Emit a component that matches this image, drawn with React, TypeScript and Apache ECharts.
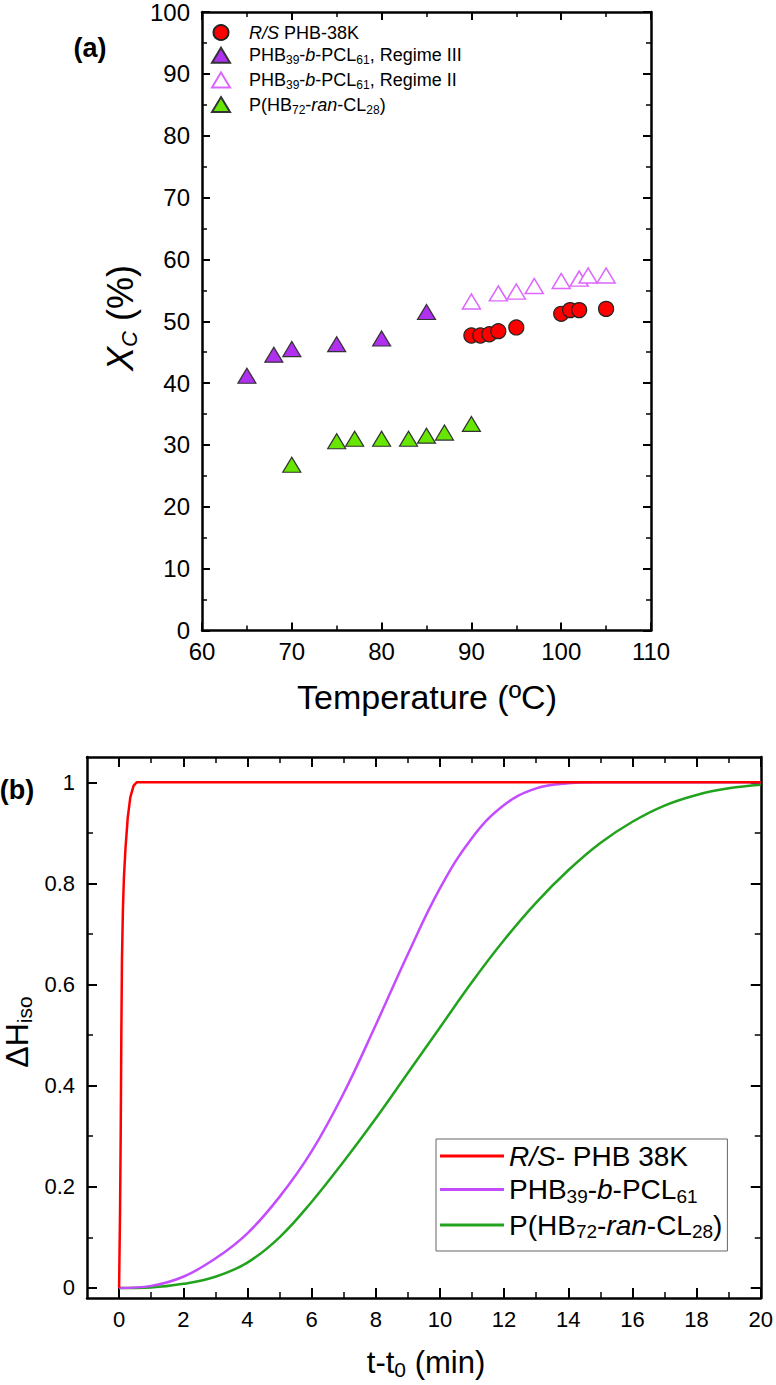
import React, { useEffect, useRef } from "react";
import * as echarts from "echarts";

// ---------- Panel (a): crystallinity vs temperature ----------
const rsTemp = [90, 91, 92, 93, 95, 100, 101, 102, 105];
const rsXc = [47.7, 47.7, 47.9, 48.4, 49.0, 51.2, 51.8, 51.8, 52.0];
const blockIIITemp = [65, 68, 70, 75, 80, 85];
const blockIIIXc = [41.2, 44.6, 45.5, 46.3, 47.2, 51.5];
const blockIITemp = [90, 93, 95, 97, 100, 102, 103, 105];
const blockIIXc = [53.2, 54.5, 54.8, 55.7, 56.5, 56.9, 57.4, 57.4];
const ranTemp = [70, 75, 77, 80, 83, 85, 87, 90];
const ranXc = [26.8, 30.6, 31.0, 31.0, 31.0, 31.5, 32.0, 33.4];

// ---------- Panel (b): relative enthalpy vs time ----------
const rsTime = [0, 0.03, 0.05, 0.07, 0.09, 0.12, 0.15, 0.2, 0.27, 0.35, 0.45, 0.55, 20];
const rsDH = [0, 0.15, 0.3, 0.5, 0.65, 0.75, 0.81, 0.87, 0.93, 0.97, 0.993, 1, 1];
const blockTime = [0, 1, 2, 3, 4, 5, 6, 7, 8, 9, 10, 11, 12, 13, 14, 15, 16, 17, 18, 19, 20];
const blockDH = [0, 0.004, 0.022, 0.058, 0.108, 0.18, 0.27, 0.385, 0.52, 0.66, 0.79, 0.89, 0.955, 0.988, 0.998, 1, 1, 1, 1, 1, 1];
const ranTime = [0, 1, 2, 3, 4, 5, 6, 7, 8, 9, 10, 11, 12, 13, 14, 15, 16, 17, 18, 19, 20];
const ranDH = [0, 0.001, 0.008, 0.022, 0.05, 0.1, 0.17, 0.25, 0.335, 0.425, 0.515, 0.605, 0.688, 0.762, 0.826, 0.88, 0.922, 0.954, 0.975, 0.988, 0.995];

const xMajorB = [0, 2, 4, 6, 8, 10, 12, 14, 16, 18, 20];
const xMinorB = [1, 3, 5, 7, 9, 11, 13, 15, 17, 19];
const yMajorB = [0, 0.2, 0.4, 0.6, 0.8, 1];
const yMinorB = [0.1, 0.3, 0.5, 0.7, 0.9];

const FF = "'Liberation Sans', Arial, sans-serif";

const zip = (xs: number[], ys: number[]) => xs.map((x, i) => [x, ys[i]]);

const legendTextA: Record<string, string> = {
  "a-rs": "{g| }{i|R/S}{n| PHB-38K}",
  "a-b3": "{g| }{n|PHB}{s|39}{n|-}{i|b}{n|-PCL}{s|61}{n|, Regime III}",
  "a-b2": "{g| }{n|PHB}{s|39}{n|-}{i|b}{n|-PCL}{s|61}{n|, Regime II}",
  "a-ran": "{g| }{n|P(HB}{s|72}{n|-}{i|ran}{n|-CL}{s|28}{n|)}",
};
const legendTextB: Record<string, string> = {
  "b-rs": "{i|R/S}{n|- PHB 38K}",
  "b-b": "{n|PHB}{s|39}{n|-}{i|b}{n|-PCL}{s|61}",
  "b-ran": "{n|P(HB}{s|72}{n|-}{i|ran}{n|-CL}{s|28}{n|)}",
};

const lineAx = { show: true, onZero: false, lineStyle: { color: "#000", width: 2.5 } };
const tickStyle = { color: "#000", width: 2 };
const minorStyle = { color: "#000", width: 1.5 };

function buildOption() {
  const axA = (position: string, labels: boolean, isX: boolean) => ({
    type: "value",
    gridIndex: 0,
    position,
    min: isX ? 60 : 0,
    max: isX ? 110 : 100,
    interval: 10,
    axisLine: lineAx,
    axisTick: { show: true, inside: true, length: 8, lineStyle: tickStyle },
    minorTick: { show: true, splitNumber: 2, length: 5, lineStyle: minorStyle },
    axisLabel: { show: labels, fontSize: 24, margin: isX ? 9 : 12, color: "#000", fontFamily: FF },
    splitLine: { show: false },
    minorSplitLine: { show: false },
  });
  const axB = (position: string, isX: boolean, major: boolean, labels: boolean) => ({
    type: "value",
    gridIndex: 1,
    position,
    min: isX ? -1 : -0.02,
    max: isX ? 20 : 1.05,
    axisLine: major ? lineAx : { show: false, onZero: false },
    axisTick: {
      show: true,
      inside: true,
      length: major ? 10 : 6,
      lineStyle: major ? tickStyle : minorStyle,
      customValues: isX ? (major ? xMajorB : xMinorB) : major ? yMajorB : yMinorB,
    },
    axisLabel: {
      show: labels,
      customValues: isX ? xMajorB : yMajorB,
      fontSize: 22,
      margin: isX ? 10 : 12,
      color: "#000",
      fontFamily: FF,
      formatter: (v: number) => String(Math.round(v * 10) / 10),
    },
    splitLine: { show: false },
  });

  const richA = {
    g: { width: 14, fontSize: 18, lineHeight: 22 },
    n: { fontSize: 18, lineHeight: 22, fontFamily: FF, color: "#000" },
    i: { fontSize: 18, lineHeight: 22, fontFamily: FF, fontStyle: "italic", color: "#000" },
    s: { fontSize: 12, lineHeight: 8, fontFamily: FF, verticalAlign: "bottom", color: "#000" },
  };
  const richB = {
    n: { fontSize: 28, lineHeight: 32, fontFamily: FF, color: "#000" },
    i: { fontSize: 28, lineHeight: 32, fontFamily: FF, fontStyle: "italic", color: "#000" },
    s: { fontSize: 19, lineHeight: 12, fontFamily: FF, verticalAlign: "bottom", color: "#000" },
  };

  return {
    animation: false,
    backgroundColor: "#fff",
    grid: [
      { left: 202, top: 10.5, width: 449, height: 620, containLabel: false },
      { left: 87, top: 757, width: 678, height: 541, containLabel: false },
    ],
    xAxis: [
      axA("bottom", true, true),
      axA("top", false, true),
      axB("bottom", true, true, true),
      axB("bottom", true, false, false),
      axB("top", true, true, false),
      axB("top", true, false, false),
    ],
    yAxis: [
      axA("left", true, false),
      axA("right", false, false),
      axB("left", false, true, true),
      axB("left", false, false, false),
      axB("right", false, true, false),
      axB("right", false, false, false),
    ],
    legend: [
      {
        data: ["a-rs", "a-b3", "a-b2", "a-ran"],
        orient: "vertical",
        left: 211,
        top: 23.5,
        itemWidth: 18,
        itemHeight: 15,
        itemGap: 4.7,
        padding: 0,
        selectedMode: false,
        formatter: (n: string) => legendTextA[n],
        textStyle: { fontSize: 18, fontFamily: FF, color: "#000", rich: richA },
      },
      {
        data: [
          { name: "b-rs", icon: "rect" },
          { name: "b-b", icon: "rect" },
          { name: "b-ran", icon: "rect" },
        ],
        orient: "vertical",
        left: 436,
        top: 1139,
        itemWidth: 64,
        itemHeight: 3,
        itemGap: 5.5,
        padding: [3, 5, 10, 4],
        borderColor: "#666",
        borderWidth: 1,
        selectedMode: false,
        formatter: (n: string) => legendTextB[n],
        textStyle: { fontSize: 28, fontFamily: FF, color: "#000", rich: richB },
      },
    ],
    series: [
      {
        name: "a-rs",
        type: "scatter",
        xAxisIndex: 0,
        yAxisIndex: 0,
        symbol: "circle",
        symbolSize: 15,
        itemStyle: { color: "#ff0000", borderColor: "#222", borderWidth: 1.2, opacity: 1 },
        data: zip(rsTemp, rsXc),
      },
      {
        name: "a-b3",
        type: "scatter",
        xAxisIndex: 0,
        yAxisIndex: 0,
        symbol: "triangle",
        symbolSize: [18, 15],
        itemStyle: { color: "#b030f0", borderColor: "#333", borderWidth: 1.2, opacity: 1 },
        data: zip(blockIIITemp, blockIIIXc),
      },
      {
        name: "a-b2",
        type: "scatter",
        xAxisIndex: 0,
        yAxisIndex: 0,
        symbol: "triangle",
        symbolSize: [18, 15],
        itemStyle: { color: "#ffffff", borderColor: "#dd66ff", borderWidth: 1.5, opacity: 1 },
        data: zip(blockIITemp, blockIIXc),
      },
      {
        name: "a-ran",
        type: "scatter",
        xAxisIndex: 0,
        yAxisIndex: 0,
        symbol: "triangle",
        symbolSize: [18, 15],
        itemStyle: { color: "#66e600", borderColor: "#333", borderWidth: 1.2, opacity: 1 },
        data: zip(ranTemp, ranXc),
      },
      {
        name: "b-ran",
        type: "line",
        xAxisIndex: 2,
        yAxisIndex: 2,
        symbol: "none",
        showSymbol: false,
        smooth: 0.4,
        lineStyle: { color: "#22a31e", width: 2.5 },
        itemStyle: { color: "#22a31e" },
        data: zip(ranTime, ranDH),
      },
      {
        name: "b-b",
        type: "line",
        xAxisIndex: 2,
        yAxisIndex: 2,
        symbol: "none",
        showSymbol: false,
        smooth: 0.4,
        lineStyle: { color: "#c44cff", width: 2.5 },
        itemStyle: { color: "#c44cff" },
        data: zip(blockTime, blockDH),
      },
      {
        name: "b-rs",
        type: "line",
        xAxisIndex: 2,
        yAxisIndex: 2,
        symbol: "none",
        showSymbol: false,
        smooth: false,
        lineStyle: { color: "#ff0000", width: 2.5 },
        itemStyle: { color: "#ff0000" },
        data: zip(rsTime, rsDH),
      },
    ],
    graphic: [
      {
        type: "text",
        x: 90,
        y: 48,
        style: { text: "(a)", fontSize: 27, fontWeight: "bold", fontFamily: FF, fill: "#000", align: "center", verticalAlign: "middle" },
      },
      {
        type: "text",
        x: 17,
        y: 790,
        style: { text: "(b)", fontSize: 27, fontWeight: "bold", fontFamily: FF, fill: "#000", align: "center", verticalAlign: "middle" },
      },
      {
        type: "text",
        x: 427,
        y: 697,
        style: { text: "Temperature (ºC)", fontSize: 34, fontFamily: FF, fill: "#000", align: "center", verticalAlign: "middle" },
      },
      {
        type: "text",
        x: 120,
        y: 318,
        rotation: Math.PI / 2,
        style: {
          text: "{x|X}{c|C}{n| (%)}",
          align: "center",
          verticalAlign: "middle",
          fill: "#000",
          rich: {
            x: { fontSize: 36, lineHeight: 40, fontFamily: FF, fontStyle: "italic", fill: "#000" },
            c: { fontSize: 22, lineHeight: 20, fontFamily: FF, fontStyle: "italic", verticalAlign: "bottom", fill: "#000" },
            n: { fontSize: 36, lineHeight: 40, fontFamily: FF, fill: "#000" },
          },
        },
      },
      {
        type: "text",
        x: 426,
        y: 1362,
        style: {
          text: "{n|t-t}{s|0}{n| (min)}",
          align: "center",
          verticalAlign: "middle",
          fill: "#000",
          rich: {
            n: { fontSize: 31, lineHeight: 36, fontFamily: FF, fill: "#000" },
            s: { fontSize: 21, lineHeight: 16, fontFamily: FF, verticalAlign: "bottom", fill: "#000" },
          },
        },
      },
      {
        type: "text",
        x: 16.5,
        y: 1032,
        rotation: Math.PI / 2,
        style: {
          text: "{n|ΔH}{s|iso}",
          align: "center",
          verticalAlign: "middle",
          fill: "#000",
          rich: {
            n: { fontSize: 32, lineHeight: 36, fontFamily: FF, fill: "#000" },
            s: { fontSize: 21, lineHeight: 12, fontFamily: FF, verticalAlign: "bottom", fill: "#000" },
          },
        },
      },
    ],
  };
}

export default function App() {
  const ref = useRef<HTMLDivElement>(null);
  useEffect(() => {
    document.body.style.margin = "0";
    document.body.style.overflow = "hidden";
    const chart = echarts.init(ref.current as HTMLDivElement, null, { renderer: "svg" });
    chart.setOption(buildOption() as any);
    return () => chart.dispose();
  }, []);
  return <div ref={ref} style={{ width: 776, height: 1385 }} />;
}
